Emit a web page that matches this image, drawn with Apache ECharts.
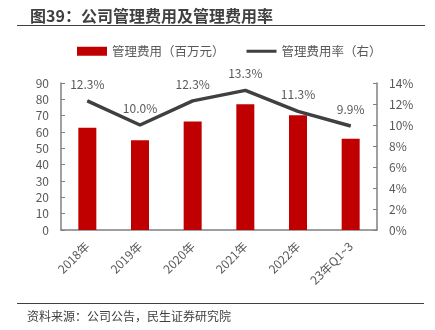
<!DOCTYPE html>
<html><head><meta charset="utf-8">
<script src="https://cdn.jsdelivr.net/npm/echarts@6/dist/echarts.min.js"></script>
<style>html,body{margin:0;padding:0;background:#fff}#c{width:435px;height:330px}</style>
</head><body><div id="c"></div>
<script>
const categories = ['2018年','2019年','2020年','2021年','2022年','23年Q1~3'];
const expense = [62.6, 55.0, 66.5, 77.0, 70.3, 55.8];
const rate = [12.3, 10.0, 12.3, 13.3, 11.3, 9.9];
const leftTicks = {min:0, max:90, interval:10};
const rightTicks = {min:0, max:14, interval:2};

const font = '"Noto Sans CJK SC", sans-serif';
const gray = '#595959';
const chart = echarts.init(document.getElementById('c'));
chart.setOption({
  animation:false,
  textStyle:{fontFamily:font},
  title:{text:'图39：公司管理费用及管理费用率', left:25, top:3,
    textStyle:{fontSize:16, fontWeight:'bold', color:'#404040', fontFamily:font}},
  graphic:[
    {type:'line', shape:{x1:17,y1:25.5,x2:425,y2:25.5}, style:{stroke:'#404040', lineWidth:1}},
    {type:'line', shape:{x1:17,y1:303.5,x2:424,y2:303.5}, style:{stroke:'#404040', lineWidth:1}},
    {type:'text', left:27, top:310, style:{text:'资料来源：公司公告，民生证券研究院', fontSize:12, fill:'#404040', fontFamily:font}}
  ],
  legend:{top:40, left:72, itemGap:22, itemWidth:30, itemHeight:9,
    textStyle:{fontSize:12.5, color:gray, fontFamily:font},
    data:[{name:'管理费用（百万元）', icon:'rect'},{name:'管理费用率（右）', icon:'path://M0,3.5 L30,3.5 L30,6.5 L0,6.5 Z'}]},
  grid:{left:61, right:58, top:83, bottom:100},
  xAxis:{type:'category', data:categories,
    axisLine:{lineStyle:{color:'#808080', width:1.5}}, axisTick:{show:false},
    axisLabel:{rotate:45, color:gray, fontSize:12, margin:14, interval:0}},
  yAxis:[
    {type:'value', min:leftTicks.min, max:leftTicks.max, interval:leftTicks.interval,
      splitLine:{show:false}, axisLine:{show:true, lineStyle:{color:'#808080', width:1.5}},
      axisTick:{show:true, inside:true, length:4, lineStyle:{color:'#808080'}},
      axisLabel:{color:gray, fontSize:12, margin:12}},
    {type:'value', min:rightTicks.min, max:rightTicks.max, interval:rightTicks.interval,
      splitLine:{show:false}, axisLine:{show:true, lineStyle:{color:'#808080', width:1.5}},
      axisTick:{show:true, inside:true, length:4, lineStyle:{color:'#808080'}},
      axisLabel:{color:gray, fontSize:12, margin:12, formatter:'{value}%'}}
  ],
  series:[
    {name:'管理费用（百万元）', type:'bar', data:expense, barWidth:18,
      itemStyle:{color:'#C00000'}},
    {name:'管理费用率（右）', type:'line', yAxisIndex:1, data:rate,
      symbol:'circle', symbolSize:1, showSymbol:true,
      lineStyle:{color:'#404040', width:3.5}, itemStyle:{color:'#404040'},
      label:{show:true, position:'top', distance:10, color:gray, fontSize:12,
        formatter:p=>p.value.toFixed(1)+'%'}}
  ]
});
</script></body></html>
